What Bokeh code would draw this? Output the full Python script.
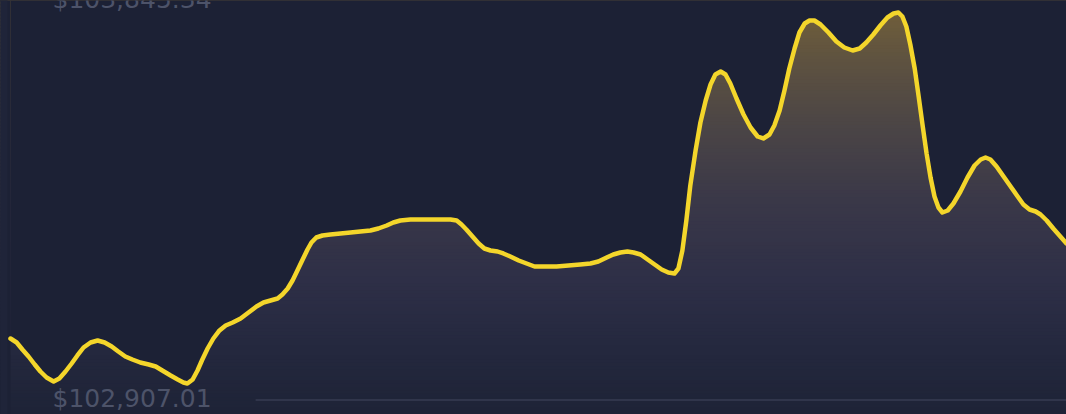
import numpy as np
from bokeh.plotting import figure
from bokeh.models import Range1d, Label
from bokeh.embed import file_html
from bokeh.resources import INLINE

# ---- data (hours since start, price in USD) ----
hours = [0.00, 0.14, 0.27, 0.41, 0.55, 0.68, 0.82, 0.98, 1.11, 1.25,
         1.39, 1.52, 1.66, 1.82, 1.98, 2.14, 2.30, 2.45, 2.61, 2.77,
         2.95, 3.14, 3.30, 3.45, 3.64, 3.80, 3.93, 4.02, 4.14, 4.25,
         4.36, 4.48, 4.61, 4.75, 4.89, 5.05, 5.23, 5.41, 5.59, 5.75,
         5.91, 6.07, 6.18, 6.30, 6.41, 6.52, 6.64, 6.75, 6.84, 6.95,
         7.09, 7.27, 7.50, 7.73, 7.95, 8.18, 8.36, 8.55, 8.70, 8.86,
         9.09, 9.43, 9.77, 10.00, 10.14, 10.25, 10.36, 10.50, 10.64, 10.77,
         10.91, 11.07, 11.20, 11.36, 11.55, 11.73, 11.91, 12.14, 12.41, 12.68,
         12.95, 13.18, 13.36, 13.55, 13.70, 13.86, 14.02, 14.16, 14.32, 14.48,
         14.64, 14.80, 14.95, 15.09, 15.18, 15.27, 15.36, 15.45, 15.57, 15.68,
         15.80, 15.91, 16.02, 16.14, 16.25, 16.36, 16.50, 16.66, 16.82, 16.98,
         17.11, 17.25, 17.36, 17.48, 17.59, 17.70, 17.82, 17.93, 18.05, 18.16,
         18.27, 18.41, 18.59, 18.77, 18.95, 19.14, 19.30, 19.45, 19.61, 19.77,
         19.93, 20.07, 20.18, 20.27, 20.36, 20.45, 20.55, 20.64, 20.73, 20.82,
         20.91, 21.00, 21.09, 21.18, 21.30, 21.43, 21.59, 21.75, 21.91, 22.05,
         22.16, 22.27, 22.41, 22.57, 22.73, 22.89, 23.02, 23.16, 23.30, 23.41,
         23.55, 23.70, 23.86, 24.00]
prices = [103020.82, 103010.71, 102993.00, 102975.30, 102955.06, 102937.36, 102922.19, 102912.07, 102919.66, 102937.36,
          102957.59, 102977.83, 102998.06, 103010.71, 103015.77, 103010.71, 103000.59, 102987.94, 102975.30, 102967.71,
          102960.12, 102955.06, 102950.01, 102939.89, 102927.24, 102917.13, 102909.54, 102907.01, 102917.13, 102939.89,
          102967.71, 102995.53, 103020.82, 103041.06, 103053.70, 103061.29, 103071.41, 103086.58, 103101.76, 103111.88,
          103116.93, 103121.99, 103132.11, 103147.28, 103167.52, 103192.81, 103220.63, 103245.92, 103263.63, 103276.27,
          103281.33, 103283.86, 103286.39, 103288.92, 103291.45, 103293.98, 103299.04, 103306.62, 103314.21, 103319.27,
          103321.80, 103321.80, 103321.80, 103321.80, 103319.27, 103309.15, 103296.51, 103278.80, 103261.10, 103248.45,
          103243.39, 103240.86, 103235.81, 103228.22, 103218.10, 103210.51, 103202.93, 103202.93, 103202.93, 103205.46,
          103207.98, 103210.51, 103215.57, 103225.69, 103233.28, 103238.34, 103240.86, 103238.34, 103233.28, 103220.63,
          103207.98, 103195.34, 103187.75, 103185.22, 103197.87, 103243.39, 103319.27, 103407.79, 103496.31, 103567.13,
          103622.77, 103663.24, 103688.53, 103696.12, 103688.53, 103665.77, 103627.83, 103587.36, 103554.49, 103531.72,
          103526.66, 103536.78, 103559.54, 103597.48, 103648.07, 103703.71, 103754.29, 103794.76, 103817.52, 103825.11,
          103825.11, 103814.99, 103794.76, 103772.00, 103756.82, 103749.23, 103754.29, 103769.47, 103789.70, 103812.46,
          103832.70, 103842.81, 103845.34, 103835.23, 103809.93, 103764.41, 103703.71, 103632.89, 103559.54, 103488.73,
          103428.03, 103379.97, 103352.15, 103339.50, 103344.56, 103362.27, 103392.62, 103428.03, 103458.38, 103473.55,
          103478.61, 103473.55, 103455.85, 103430.55, 103405.26, 103379.97, 103359.74, 103347.09, 103342.03, 103334.44,
          103319.27, 103299.04, 103278.80, 103261.10]
top_label = "$103,845.34"
bottom_label = "$102,907.01"
baseline_price = 102865.0
baseline_start = 5.57

# ---- styling ----
BG = "#1c2135"
LINE = "#f4d62b"
LABEL = "#4d5369"
W, H = 1066, 414
X0, X1 = -0.2273, 24.0
Y0, Y1 = 102828.60, 103875.69

p = figure(width=W, height=H, x_range=Range1d(X0, X1), y_range=Range1d(Y0, Y1),
           output_backend="svg", toolbar_location=None, min_border=0,
           x_axis_location=None, y_axis_location=None,
           background_fill_color=BG, border_fill_color=BG, outline_line_color=None)
p.grid.visible = False

# vertical gradient (fractions of plot height, bottom -> top)
stops_f = [0.0, 0.034, 0.155, 0.324, 0.517, 0.686, 0.855, 1.0]
stops_rgb = np.array([(30, 35, 55), (31, 36, 56), (36, 40, 62), (46, 47, 71),
                      (58, 56, 72), (74, 68, 70), (94, 82, 64), (116, 97, 57)], dtype=float)
N = 120
edges = np.linspace(Y0, Y1, N + 1)
mids = (edges[:-1] + edges[1:]) / 2
fr = (mids - Y0) / (Y1 - Y0)
cols = []
for f in fr:
    rgb = [np.interp(f, stops_f, stops_rgb[:, c]) for c in range(3)]
    cols.append("#%02x%02x%02x" % tuple(int(round(v)) for v in rgb))
step = edges[1] - edges[0]
p.quad(left=X0 - 1, right=X1 + 1, bottom=edges[:-1], top=edges[1:] + step * 0.6,
       fill_color=cols, line_color=None)

# bottom rule
p.segment(x0=[baseline_start], y0=[baseline_price], x1=[X1 + 1], y1=[baseline_price],
          line_color="#30354b", line_width=2)

# cover the area above the curve with background
p.varea(x=hours, y1=prices, y2=[Y1 + 200] * len(hours), fill_color=BG)
p.quad(left=[X0 - 1], right=[hours[0]], bottom=[Y0 - 200], top=[Y1 + 200],
       fill_color=BG, line_color=None)
# faint lighter strip at the very left edge
p.quad(left=[X0 - 1], right=[-0.07], bottom=[Y0 - 200], top=[Y1 + 200],
       fill_color="#1f2439", line_color=None)

p.line(hours, prices, line_color=LINE, line_width=4.5, line_join="round", line_cap="round")

p.add_layout(Label(x=52, y=16, x_units="screen", y_units="screen", text=bottom_label,
                   text_font="DejaVu Sans", text_font_size="25px", text_color=LABEL,
                   text_baseline="alphabetic"))
p.add_layout(Label(x=52, y=415, x_units="screen", y_units="screen", text=top_label,
                   text_font="DejaVu Sans", text_font_size="25px", text_color=LABEL,
                   text_baseline="alphabetic"))

template = """{% block postamble %}<style>html, body { background-color: #1c2135; }</style>{% endblock %}"""
open("out.html", "w").write(file_html(p, INLINE, template=template))
